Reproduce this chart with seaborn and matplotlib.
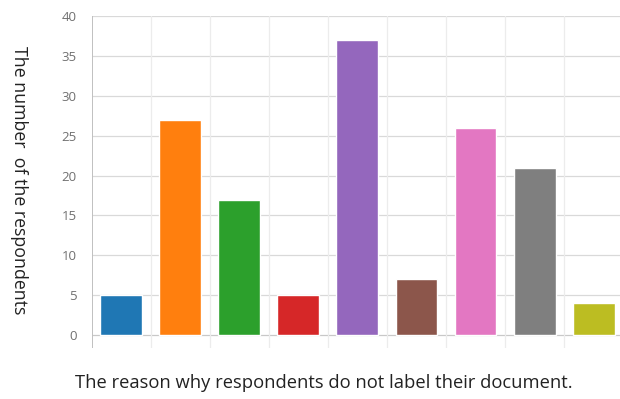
import matplotlib
matplotlib.use("Agg")
import matplotlib.pyplot as plt
import seaborn as sns
import pandas as pd

# Responses per reason (reasons are shown by colour only)
reasons = ["1", "2", "3", "4", "5", "6", "7", "8", "9"]
counts = [5, 27, 17, 5, 37, 7, 26, 21, 4]
colors = ["#1f77b4", "#ff7f0e", "#2ca02c", "#d62728", "#9467bd",
          "#8c564b", "#e377c2", "#7f7f7f", "#bcbd22"]
y_ticks = [0, 5, 10, 15, 20, 25, 30, 35, 40]

sns.set_theme(style="white")
plt.rcParams["font.family"] = ["Open Sans", "DejaVu Sans"]

df = pd.DataFrame({"reason": reasons, "count": counts})

fig = plt.figure(figsize=(6.2, 3.99), dpi=100)
ax = fig.add_axes([0.148, 0.128, 0.857, 0.832])

sns.barplot(data=df, x="reason", y="count", hue="reason", palette=colors,
            order=reasons, hue_order=reasons, width=0.71, legend=False,
            saturation=1, ax=ax, zorder=3)

ax.set_xlim(-0.5, len(reasons) - 0.5)
ax.set_ylim(-1.6, 40)
ax.set_yticks(y_ticks)
ax.set_yticklabels([str(t) for t in y_ticks], color="#707070", fontsize=9.5)
ax.set_xticks([])

for s in ax.spines.values():
    s.set_visible(False)

# horizontal grid lines, reaching a little left of the axis
for t in y_ticks:
    ax.axhline(t, color="#d9d9d9" if t else "#c8c8c8", lw=0.9, zorder=1)
ax.tick_params(axis="y", length=10, width=0.9, color="#d9d9d9", pad=1)

# vertical grid lines between categories
for i in range(len(reasons)):
    x = i - 0.5
    ax.axvline(x, color="#c0c0c0" if i == 0 else "#ececec",
               lw=1.4 if i == 0 else 0.9, zorder=1)

ax.set_xlabel("The reason why respondents do not label their document.",
              fontsize=13.2, color="#222222")
ax.xaxis.label.set(ha="center", va="center")
ax.xaxis.set_label_coords(0.437, -0.105)

ax.set_ylabel("The number  of the respondents", fontsize=12.8,
              color="#222222", rotation=-90)
ax.yaxis.label.set(ha="center", va="center")
ax.yaxis.set_label_coords(-0.136, 0.506)

fig.savefig("out.png", dpi=100, facecolor="white")
